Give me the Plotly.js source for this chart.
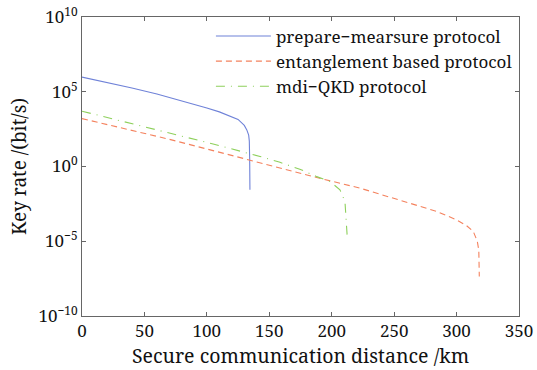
<!DOCTYPE html>
<html>
<head>
<meta charset="utf-8">
<script src="https://cdn.plot.ly/plotly-3.0.1.min.js"></script>
<style>html,body{margin:0;padding:0;background:#fff;}#chart{width:537px;height:370px;}</style>
</head>
<body>
<div id="chart"></div>
<script>
// Distance (km) and key rate (bit/s)
const pmDist = [0, 20, 40, 60, 80, 100, 110, 120, 125, 130, 132, 133.5, 134, 134.3, 134.5];
const pmRate = [9.5e5, 4.2e5, 1.8e5, 7.1e4, 2.5e4, 8.3e3, 4.5e3, 2.2e3, 1.4e3, 560, 280, 126, 50, 3.2, 0.028];

const ebDist = [0, 35, 70, 105, 143, 160, 193, 223, 257, 284, 300, 308, 313.4, 316.6, 317.8, 318.2];
const ebRate = [1.6e3, 330, 66, 11.5, 1.7, 0.79, 0.145, 0.035, 4.6e-3, 1e-3, 2.7e-4, 1.1e-4, 4.5e-5, 1e-5, 2.5e-6, 4.4e-8];

const mdiDist = [0, 35, 69.4, 105, 142.6, 158.6, 175, 188, 198.6, 206.6, 210.6, 212, 212.5];
const mdiRate = [5e3, 950, 190, 32, 4.7, 1.9, 0.63, 0.21, 0.1, 0.0275, 4.6e-3, 1e-4, 1.6e-5];

const seriesNames = ['prepare\u2212mearsure protocol', 'entanglement based protocol', 'mdi\u2212QKD protocol'];

const yTickVals = [1e10, 1e5, 1, 1e-5, 1e-10];
const yTickText = ['10<sup>10</sup>', '10<sup>5</sup>', '10<sup>0</sup>', '10<sup>\u22125</sup>', '10<sup>\u221210</sup>'];
const xTickVals = [0, 50, 100, 150, 200, 250, 300, 350];

const FONT = 'Noto Serif';

const traces = [
  {x: pmDist, y: pmRate, name: seriesNames[0], mode: 'lines',
   line: {color: '#6f82d8', width: 1.1}},
  {x: ebDist, y: ebRate, name: seriesNames[1], mode: 'lines',
   line: {color: '#f4825e', width: 1.1, dash: '6px,4px'}},
  {x: mdiDist, y: mdiRate, name: seriesNames[2], mode: 'lines',
   line: {color: '#8ed05c', width: 1.1, dash: '9px,6px,1px,6px'}}
];

const axisCommon = {
  showgrid: false, zeroline: false, showline: true, mirror: 'ticks',
  linecolor: '#666', linewidth: 1, ticks: 'inside', ticklen: 4, tickcolor: '#666',
  tickfont: {family: FONT, size: 17, color: '#111'}
};

const layout = {
  width: 537, height: 370,
  margin: {l: 82, r: 18, t: 17, b: 54},
  paper_bgcolor: '#fff', plot_bgcolor: '#fff',
  font: {family: FONT, color: '#111'},
  xaxis: Object.assign({}, axisCommon, {
    range: [0, 350], tickvals: xTickVals,
    title: {text: 'Secure communication distance /km', font: {family: FONT, size: 19.5, color: '#111'}, standoff: 3}
  }),
  yaxis: Object.assign({}, axisCommon, {
    type: 'log', range: [-10, 10], tickvals: yTickVals, ticktext: yTickText,
    title: {text: 'Key rate /(bit/s)', font: {family: FONT, size: 19, color: '#111'}, standoff: 6}
  }),
  legend: {
    x: 0.295, y: 0.995, xanchor: 'left', yanchor: 'top',
    bgcolor: 'rgba(0,0,0,0)', borderwidth: 0,
    font: {family: FONT, size: 17, color: '#111'},
    itemwidth: 55, tracegroupgap: 0
  },
  showlegend: true
};

Plotly.newPlot('chart', traces, layout, {displayModeBar: false, staticPlot: true});
</script>
</body>
</html>
